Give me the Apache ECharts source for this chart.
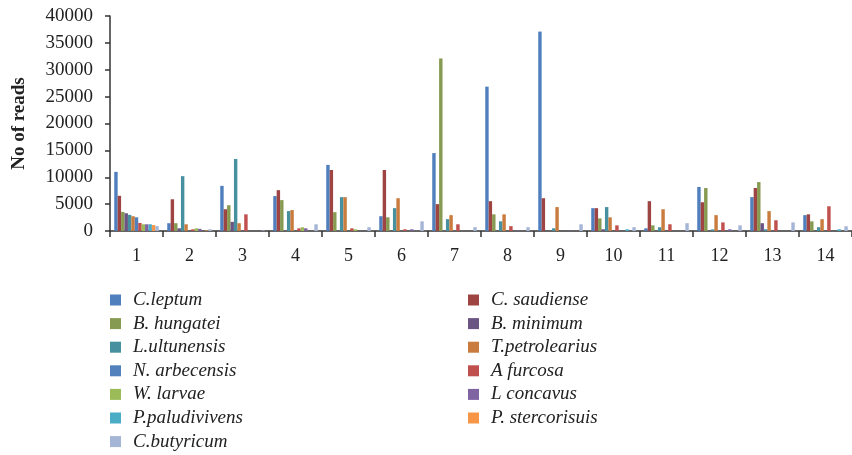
<!DOCTYPE html>
<html>
<head>
<meta charset="utf-8">
<script src="https://cdn.jsdelivr.net/npm/echarts@6/dist/echarts.min.js"></script>
<style>
html,body{margin:0;padding:0;background:#fff;}
#chart{width:852px;height:455px;}
</style>
</head>
<body>
<div id="chart"></div>
<script>
const categories = ['1','2','3','4','5','6','7','8','9','10','11','12','13','14'];
const seriesNames = ['C.leptum','C. saudiense','B. hungatei','B. minimum','L.ultunensis','T.petrolearius','N. arbecensis','A furcosa','W. larvae','L concavus','P.paludivivens','P. stercorisuis','C.butyricum'];
const cLeptum        = [11000, 1450, 8400, 6500, 12300, 2750, 14500, 26850, 37100, 4250, 500, 8200, 6300, 2950];
const cSaudiense     = [6550, 5900, 4050, 7600, 11350, 11350, 5000, 5550, 6100, 4250, 5550, 5350, 8000, 3100];
const bHungatei      = [3550, 1450, 4800, 5750, 3500, 2550, 32100, 3100, 0, 2350, 1050, 8000, 9100, 1800];
const bMinimum       = [3300, 500, 1700, 0, 0, 0, 0, 0, 0, 320, 0, 0, 1450, 0];
const lUltunensis    = [3000, 10200, 13400, 3700, 6300, 4250, 2200, 1800, 500, 4450, 700, 300, 320, 700];
const tPetrolearius  = [2750, 1250, 1450, 3900, 6300, 6100, 2950, 3100, 4450, 2550, 4050, 2950, 3700, 2200];
const nArbecensis    = [2550, 0, 0, 0, 0, 0, 0, 0, 0, 0, 0, 0, 0, 0];
const aFurcosa       = [1500, 320, 3100, 500, 500, 320, 1250, 900, 0, 1050, 1250, 1600, 2000, 4600];
const wLarvae        = [1250, 500, 0, 700, 320, 0, 0, 0, 0, 0, 0, 0, 0, 0];
const lConcavus      = [1250, 400, 0, 500, 0, 320, 0, 100, 100, 0, 0, 320, 0, 0];
const pPaludivivens  = [1250, 0, 0, 0, 0, 0, 0, 0, 0, 320, 0, 0, 0, 320];
const pStercorisuis  = [1100, 100, 0, 0, 0, 0, 0, 0, 0, 0, 0, 0, 0, 0];
const cButyricum     = [900, 320, 100, 1250, 700, 1800, 700, 700, 1250, 700, 1450, 1050, 1600, 880];
const yTicks = {min: 0, max: 40000, interval: 5000};

const seriesData = [cLeptum, cSaudiense, bHungatei, bMinimum, lUltunensis, tPetrolearius, nArbecensis, aFurcosa, wLarvae, lConcavus, pPaludivivens, pStercorisuis, cButyricum];
const colors = ['#4F7FBD','#9E4443','#879A52','#6A5484','#4690A0','#C97C3E','#5281BC','#C0504D','#9BBB59','#8064A2','#4BACC6','#F79646','#A5B5D6'];

const serif = '"Liberation Serif", "DejaVu Serif", serif';
const chart = echarts.init(document.getElementById('chart'));
const legendText = {fontFamily: serif, fontStyle: 'italic', fontSize: 19, color: '#222', lineHeight: 20, padding: [0,0,0,7]};
const legendBase = {orient: 'vertical', top: 290, height: 200, padding: 0, itemWidth: 11, itemHeight: 11, itemGap: 3.6, icon: 'rect', textStyle: legendText};
chart.setOption({
  animation: false,
  color: colors,
  grid: {left: 110, right: -7, top: 16, bottom: 224, containLabel: false},
  legend: [
    Object.assign({}, legendBase, {left: 110, data: seriesNames.filter((n, i) => i % 2 === 0)}),
    Object.assign({}, legendBase, {left: 468, data: seriesNames.filter((n, i) => i % 2 === 1)})
  ],
  xAxis: {
    type: 'category', data: categories,
    axisLine: {lineStyle: {color: '#333', width: 1.5}},
    axisTick: {show: true, length: 6, lineStyle: {color: '#333', width: 1.5}},
    axisLabel: {fontFamily: serif, fontSize: 18, color: '#222', margin: 16}
  },
  yAxis: {
    type: 'value', min: yTicks.min, max: yTicks.max, interval: yTicks.interval,
    name: 'No of reads', nameLocation: 'middle', nameGap: 81, nameRotate: 90,
    nameTextStyle: {fontFamily: serif, fontWeight: 'bold', fontSize: 19, color: '#222'},
    axisLine: {show: true, lineStyle: {color: '#333', width: 1.5}},
    axisTick: {show: true, length: 5, lineStyle: {color: '#333', width: 1.5}},
    splitLine: {show: false},
    axisLabel: {fontFamily: serif, fontSize: 19, color: '#222', margin: 17, formatter: v => String(v)}
  },
  series: seriesNames.map((name, i) => ({
    name: name, type: 'bar', data: seriesData[i],
    barGap: '0%', barCategoryGap: '16%'
  }))
});
</script>
</body>
</html>
